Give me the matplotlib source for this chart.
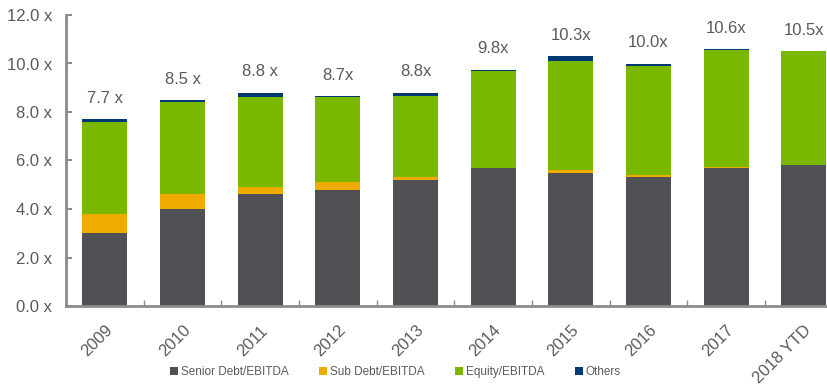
import matplotlib
matplotlib.use("Agg")
import matplotlib.pyplot as plt
import numpy as np

plt.rcParams["font.family"] = ["Liberation Sans Narrow", "Liberation Sans", "DejaVu Sans"]

years = ["2009", "2010", "2011", "2012", "2013", "2014", "2015", "2016", "2017", "2018 YTD"]
senior = [3.0, 4.0, 4.6, 4.8, 5.2, 5.7, 5.5, 5.3, 5.7, 5.8]
sub = [0.8, 0.6, 0.3, 0.3, 0.1, 0.0, 0.1, 0.1, 0.02, 0.0]
equity = [3.8, 3.8, 3.7, 3.5, 3.35, 4.0, 4.5, 4.5, 4.85, 4.7]
others = [0.1, 0.1, 0.2, 0.05, 0.15, 0.05, 0.2, 0.1, 0.03, 0.02]
total_labels = ["7.7 x", "8.5 x", "8.8 x", "8.7x", "8.8x", "9.8x", "10.3x", "10.0x", "10.6x", "10.5x"]

series = [
    ("Senior Debt/EBITDA", senior, "#505155"),
    ("Sub Debt/EBITDA", sub, "#f0ab00"),
    ("Equity/EBITDA", equity, "#7ab800"),
    ("Others", others, "#003a70"),
]

TEXT = "#595a5c"
AXIS = "#8c8c8c"

fig = plt.figure(figsize=(8.27, 3.85), dpi=100)
ax = fig.add_axes([66 / 827, 79 / 385, 1 - 66 / 827, 291 / 385])

x = np.arange(len(years))
bottom = np.zeros(len(years))
for name, vals, color in series:
    ax.bar(x, vals, width=0.58, bottom=bottom, color=color, label=name, linewidth=0)
    bottom += np.array(vals)

for xi, top, lab in zip(x, bottom, total_labels):
    ax.annotate(lab, (xi, top), textcoords="offset points", xytext=(0, 15),
                ha="center", va="center", fontsize=12, color=TEXT)

ax.set_ylim(0, 12)
ax.set_xlim(-0.5, -0.5 + (827 - 66) / 77.67)
ax.set_yticks(np.arange(0, 12.1, 2))
ax.set_yticklabels([f"{v:.1f} x" for v in np.arange(0, 12.1, 2)])
ax.set_xticks(x)
ax.set_xticklabels(years, rotation=45, ha="right", rotation_mode="anchor")
ax.set_xticks(np.arange(0.5, len(years) - 0.5), minor=True)

ax.tick_params(axis="y", direction="in", length=4, width=1.5, color=AXIS,
               labelsize=12, labelcolor=TEXT, pad=10)
ax.tick_params(axis="x", which="major", length=0, labelsize=12, labelcolor=TEXT, pad=12)
ax.tick_params(axis="x", which="minor", direction="in", length=4, width=1, color=AXIS)

for s in ["top", "right"]:
    ax.spines[s].set_visible(False)
for s in ["left", "bottom"]:
    ax.spines[s].set_color(AXIS)
    ax.spines[s].set_linewidth(2)

fig.legend(loc="lower center", bbox_to_anchor=(0.478, -0.01), ncol=4, frameon=False,
           fontsize=8.5, handlelength=0.7, handleheight=0.7, handletextpad=0.2,
           columnspacing=2.6, labelcolor=TEXT)

fig.savefig("out.png", dpi=100)
